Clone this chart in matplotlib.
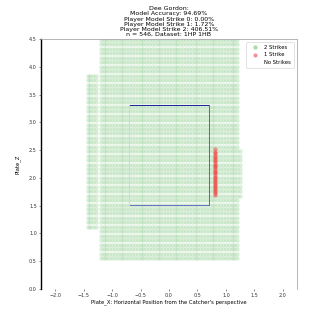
import matplotlib
matplotlib.use('Agg')
import matplotlib.pyplot as plt
import numpy as np

# grid of predicted pitch locations (plate_x columns, plate_z rows)
main_x = [-1.20, -1.15, -1.10, -1.05, -1.00, -0.95, -0.90, -0.85, -0.80, -0.75, -0.70,
          -0.65, -0.60, -0.55, -0.50, -0.45, -0.40, -0.35, -0.30, -0.25, -0.20, -0.15,
          -0.10, -0.05, 0.00, 0.05, 0.10, 0.15, 0.20, 0.25, 0.30, 0.35, 0.40, 0.45, 0.50,
          0.55, 0.60, 0.65, 0.70, 0.75, 0.80, 0.85, 0.90, 0.95, 1.00, 1.05, 1.10, 1.15, 1.20]
main_z = [0.56, 0.64, 0.72, 0.80, 0.88, 0.96, 1.04, 1.12, 1.20, 1.28, 1.36, 1.44, 1.52,
          1.60, 1.68, 1.76, 1.84, 1.92, 2.00, 2.08, 2.16, 2.24, 2.32, 2.40, 2.48, 2.56,
          2.64, 2.72, 2.80, 2.88, 2.96, 3.04, 3.12, 3.20, 3.28, 3.36, 3.44, 3.52, 3.60,
          3.68, 3.76, 3.84, 3.92, 4.00, 4.08, 4.16, 4.24, 4.32, 4.40, 4.48]
left_x = [-1.43, -1.38, -1.33, -1.28]
left_z = [1.12, 1.20, 1.28, 1.36, 1.44, 1.52, 1.60, 1.68, 1.76, 1.84, 1.92, 2.00, 2.08,
          2.16, 2.24, 2.32, 2.40, 2.48, 2.56, 2.64, 2.72, 2.80, 2.88, 2.96, 3.04, 3.12,
          3.20, 3.28, 3.36, 3.44, 3.52, 3.60, 3.68, 3.76, 3.84]
right_x = [1.24]
right_z = [1.68, 1.76, 1.84, 1.92, 2.00, 2.08, 2.16, 2.24, 2.32, 2.40, 2.48]

# 1 strike predictions
one_x = [0.81] * 30
one_z = [1.69, 1.72, 1.75, 1.78, 1.80, 1.83, 1.86, 1.89, 1.91, 1.94, 1.97, 2.00, 2.02,
         2.05, 2.08, 2.11, 2.13, 2.16, 2.19, 2.22, 2.24, 2.27, 2.30, 2.33, 2.35, 2.38,
         2.41, 2.44, 2.47, 2.52]

sz_left, sz_right = -0.708, 0.708
sz_bot, sz_top = 1.51, 3.31

title = ("Dee Gordon:\nModel Accuracy: 94.69%\nPlayer Model Strike 0: 0.00%\n"
         "Player Model Strike 1: 1.72%\nPlayer Model Strike 2: 406.51%\n"
         "n = 546, Dataset: 1HP 1HB")

gx, gz = [], []
for xs, zs in [(main_x, main_z), (left_x, left_z), (right_x, right_z)]:
    X, Z = np.meshgrid(xs, zs)
    gx += list(X.ravel())
    gz += list(Z.ravel())

fig = plt.figure(figsize=(3.3, 3.3), dpi=100)
ax = fig.add_axes([0.124, 0.124, 0.776, 0.758])

ax.scatter(gx, gz, s=10, color='#78c478', alpha=0.28, linewidths=0, label='2 Strikes')
ax.scatter(one_x, one_z, s=9, color='#f04848', alpha=0.55, linewidths=0, label='1 Strike')
ax.scatter([], [], s=8, color='white', label='No Strikes')

# strike zone
ax.plot([sz_left, sz_right], [sz_top, sz_top], color='#1a2299', lw=0.7)
ax.plot([sz_right, sz_right], [sz_bot, sz_top], color='#5a62c0', lw=0.7)
ax.plot([sz_left, sz_right], [sz_bot, sz_bot], color='#6a72c8', lw=0.7)
ax.plot([sz_left, sz_left], [sz_bot, sz_top], color='#d0d4ee', lw=0.7)

ax.set_xlim(-2.25, 2.25)
ax.set_ylim(0, 4.5)
ax.set_xticks([-2.0, -1.5, -1.0, -0.5, 0.0, 0.5, 1.0, 1.5, 2.0])
ax.set_yticks([0.0, 0.5, 1.0, 1.5, 2.0, 2.5, 3.0, 3.5, 4.0, 4.5])
ax.tick_params(labelsize=3.5, length=1.5, width=0.4, pad=1.5, colors='#333333')
for s in ['top', 'right']:
    ax.spines[s].set_color('#aaaaaa')
    ax.spines[s].set_linewidth(0.6)
ax.spines['left'].set_color('black')
ax.spines['left'].set_linewidth(1.0)
ax.spines['bottom'].set_visible(False)

ax.set_xlabel("Plate_X: Horizontal Position from the Catcher's perspective", fontsize=3.8, labelpad=1)
ax.set_ylabel('Plate_Z', fontsize=3.8, labelpad=6)
ax.set_title(title, fontsize=4.5, linespacing=1.05, pad=2)

leg = ax.legend(loc='upper right', fontsize=3.8, markerscale=1.0, handletextpad=0.8,
                borderpad=0.6, labelspacing=0.5, framealpha=1)
leg.get_frame().set_linewidth(0.4)
leg.get_frame().set_edgecolor('#cccccc')
for h in leg.legend_handles[:2]:
    h.set_alpha(0.6)

fig.savefig('out.png', dpi=100)
